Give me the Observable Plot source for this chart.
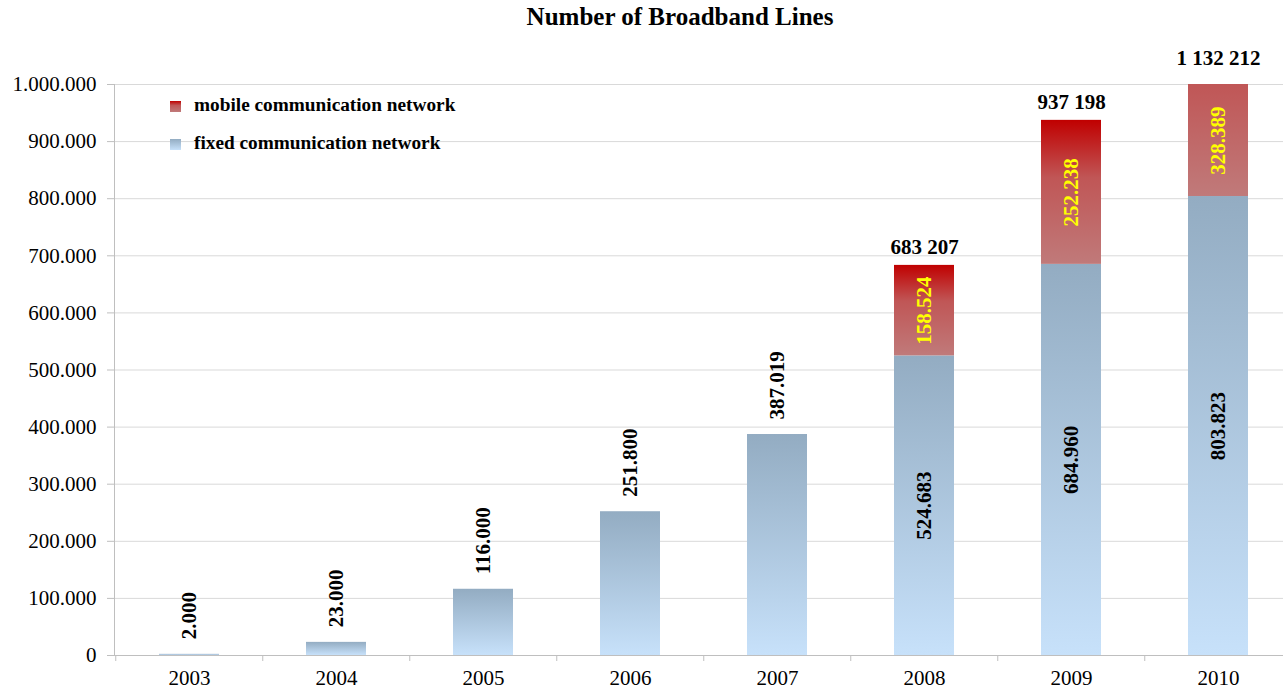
<!DOCTYPE html>
<html><head><meta charset="utf-8">
<script src="https://cdn.jsdelivr.net/npm/d3@7"></script>
<script src="https://cdn.jsdelivr.net/npm/@observablehq/plot@0.6"></script>
<style>
body{margin:0;background:#fff;font-family:"Liberation Serif","Times New Roman",serif;}
#wrap{position:relative;width:1283px;height:690px;overflow:hidden;}
#title{position:absolute;top:3px;left:0;width:1360px;text-align:center;font-weight:bold;font-size:25px;color:#000;}
.lg{position:absolute;left:170px;font-weight:bold;font-size:19.3px;color:#000;white-space:nowrap;}
.sw{display:inline-block;width:11px;height:11px;margin-right:13px;vertical-align:-1px;}
</style></head>
<body>
<div id="wrap">
  <div id="chart"></div>
  <div id="title">Number of Broadband Lines</div>
  <div class="lg" style="top:94px"><span class="sw" style="background:linear-gradient(#c00000,#c05858 40%,#c07a7a)"></span>mobile communication network</div>
  <div class="lg" style="top:132px"><span class="sw" style="background:linear-gradient(#93acc2,#c7e1fa)"></span>fixed communication network</div>
</div>
<script>
const years = ["2003","2004","2005","2006","2007","2008","2009","2010"];
const fixedLines = [2000, 23000, 116000, 251800, 387019, 524683, 684960, 803823];
const mobileLines = [0, 0, 0, 0, 0, 158524, 252238, 328389];
const yTicks = [0,100000,200000,300000,400000,500000,600000,700000,800000,900000,1000000];
const yMax = 1000000;

const fmtDot = d3.formatLocale({decimal:",", thousands:".", grouping:[3], currency:["",""]}).format(",");
const fmtSpace = d3.formatLocale({decimal:",", thousands:" ", grouping:[3], currency:["",""]}).format(",");

const rows = years.map((year, i) => ({year, fixed: fixedLines[i], mobile: mobileLines[i], total: fixedLines[i] + mobileLines[i]}));
const fixedOnly = rows.filter(d => d.mobile === 0);
const stacked = rows.filter(d => d.mobile > 0);
const stackedIn = stacked.filter(d => d.total <= yMax);
const stackedOver = stacked.filter(d => d.total > yMax);

const xStart = 114, xEnd = 1294, step = (xEnd - xStart) / years.length;

const plot = Plot.plot({
  width: 1283,
  height: 690,
  marginTop: 84,
  marginBottom: 35,
  marginLeft: 114,
  marginRight: 0,
  style: {fontFamily: '"Liberation Serif","Times New Roman",serif', fontSize: "21px", color: "#000", background: "#fff"},
  x: {domain: years, range: [xStart, xEnd], paddingInner: 0.59, paddingOuter: 0.295, label: null},
  y: {domain: [0, yMax], label: null},
  marks: [
    Plot.ruleY(yTicks.slice(1), {stroke: "#d9d9d9"}),
    Plot.barY(rows, {x: "year", y1: 0, y2: "fixed", fill: "url(#gFixed)", clip: true}),
    Plot.barY(stacked, {x: "year", y1: "fixed", y2: "total", fill: "url(#gMobile)", clip: true}),
    Plot.ruleY([0], {stroke: "#bfbfbf"}),
    Plot.frame({anchor: "left", stroke: "#bfbfbf"}),
    Plot.ruleX(years, {x: d => d, dx: -step / 2, y1: 0, y2: 0, insetBottom: -6, stroke: "#bfbfbf"}),
    Plot.axisY(yTicks, {tickFormat: fmtDot, tickSize: 7, tickPadding: 11, fontSize: 21, stroke: "#bfbfbf", fill: "#000", label: null}),
    Plot.axisX({tickSize: 0, tickPadding: 15, fontSize: 21, fill: "#000", label: null}),
    Plot.text(fixedOnly, {x: "year", y: "total", text: d => fmtDot(d.total), rotate: -90, textAnchor: "start", lineAnchor: "middle", dy: -15, fontWeight: "bold", fontSize: 21, fill: "#000"}),
    Plot.text(stacked, {x: "year", y: d => d.fixed / 2, text: d => fmtDot(d.fixed), rotate: -90, textAnchor: "middle", lineAnchor: "middle", fontWeight: "bold", fontSize: 21, fill: "#000"}),
    Plot.text(stacked, {x: "year", y: d => (d.fixed + Math.min(d.total, yMax)) / 2, text: d => fmtDot(d.mobile), rotate: -90, textAnchor: "middle", lineAnchor: "middle", fontWeight: "bold", fontSize: 21, fill: "#ffff00"}),
    Plot.text(stackedIn, {x: "year", y: "total", text: d => fmtSpace(d.total), lineAnchor: "bottom", dy: -11, fontWeight: "bold", fontSize: 21, fill: "#000"}),
    Plot.text(stackedOver, {x: "year", y: yMax, text: d => fmtSpace(d.total), lineAnchor: "bottom", dy: -20, fontWeight: "bold", fontSize: 21, fill: "#000"})
  ]
});

const svg = d3.select(plot);
const defs = svg.insert("defs", ":first-child");
const g1 = defs.append("linearGradient").attr("id", "gFixed").attr("x1", 0).attr("y1", 0).attr("x2", 0).attr("y2", 1);
g1.append("stop").attr("offset", "0%").attr("stop-color", "#93acc2");
g1.append("stop").attr("offset", "100%").attr("stop-color", "#c7e1fa");
const g2 = defs.append("linearGradient").attr("id", "gMobile").attr("x1", 0).attr("y1", 0).attr("x2", 0).attr("y2", 1);
g2.append("stop").attr("offset", "0%").attr("stop-color", "#c00000");
g2.append("stop").attr("offset", "40%").attr("stop-color", "#c05656");
g2.append("stop").attr("offset", "100%").attr("stop-color", "#c07a7a");

document.getElementById("chart").appendChild(plot);
</script>
</body></html>
